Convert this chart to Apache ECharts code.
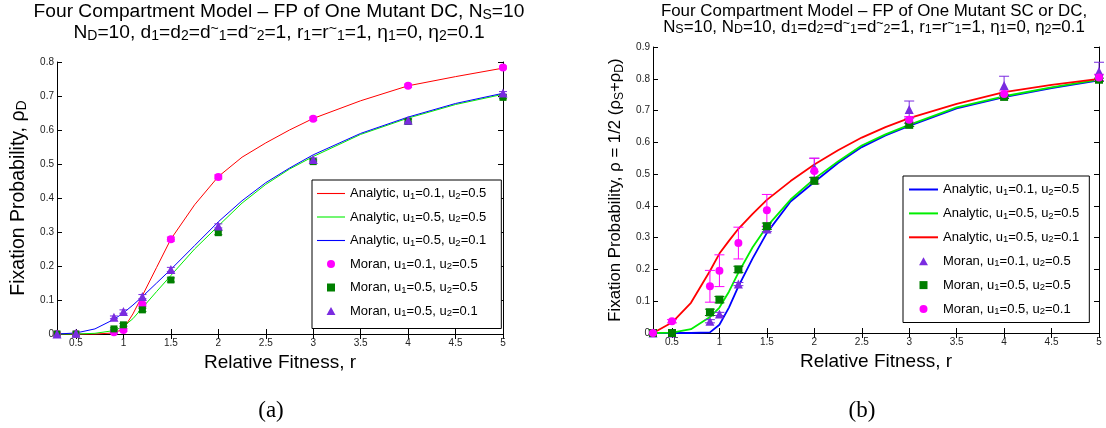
<!DOCTYPE html>
<html><head><meta charset="utf-8">
<script src="https://cdn.jsdelivr.net/npm/echarts@6/dist/echarts.min.js"></script>
<style>html,body{margin:0;padding:0;background:#fff}#c{width:1106px;height:428px}</style>
</head><body><div id="c"></div><script>
const FONT = '"Liberation Sans", Arial, Helvetica, sans-serif';

// ---------- data ----------
const rAnalytic = [0.3, 0.5, 0.7, 0.9, 1, 1.1, 1.2, 1.35, 1.5, 1.75, 2, 2.25, 2.5, 2.75, 3, 3.5, 4, 4.5, 5];
const rMoran = [0.3, 0.5, 0.9, 1, 1.2, 1.5, 2, 3, 4, 5];
const xTickValues = [0.5, 1, 1.5, 2, 2.5, 3, 3.5, 4, 4.5, 5];

// Panel (a)
const aAnalyticU01U05 = [0, 0, 0, 0.003, 0.015, 0.059, 0.113, 0.196, 0.279, 0.38, 0.463, 0.52, 0.562, 0.6, 0.634, 0.686, 0.73, 0.757, 0.782];
const aAnalyticU05U05 = [0, 0, 0.002, 0.01, 0.022, 0.045, 0.077, 0.125, 0.172, 0.25, 0.318, 0.385, 0.44, 0.485, 0.522, 0.587, 0.635, 0.675, 0.705];
const aAnalyticU05U01 = [0, 0.003, 0.015, 0.043, 0.062, 0.085, 0.11, 0.15, 0.19, 0.26, 0.33, 0.392, 0.445, 0.488, 0.527, 0.59, 0.638, 0.678, 0.708];
const aMoranU01U05 = [0, 0, 0.005, 0.012, 0.087, 0.279, 0.462, 0.633, 0.73, 0.784];
const aMoranU05U05 = [0, 0, 0.015, 0.027, 0.071, 0.159, 0.298, 0.507, 0.625, 0.696];
const aMoranU05U01 = [0, 0.002, 0.049, 0.066, 0.11, 0.19, 0.318, 0.513, 0.629, 0.709];
const aErrU01U05 = [0, 0, 0.003, 0.004, 0.006, 0.006, 0.006, 0.005, 0.005, 0.004];
const aErrU05U05 = [0, 0, 0.003, 0.004, 0.005, 0.006, 0.006, 0.005, 0.005, 0.004];
const aErrU05U01 = [0, 0, 0.004, 0.005, 0.006, 0.006, 0.006, 0.005, 0.005, 0.004];

// Panel (b)
const bAnalyticU01U05 = [0, 0, 0, 0.002, 0.026, 0.08, 0.147, 0.235, 0.315, 0.414, 0.475, 0.535, 0.585, 0.622, 0.652, 0.707, 0.742, 0.771, 0.795];
const bAnalyticU05U05 = [0, 0.001, 0.012, 0.05, 0.08, 0.13, 0.19, 0.27, 0.335, 0.42, 0.485, 0.54, 0.59, 0.625, 0.655, 0.71, 0.745, 0.773, 0.797];
const bAnalyticU05U01 = [0, 0.033, 0.095, 0.195, 0.25, 0.29, 0.328, 0.375, 0.419, 0.478, 0.53, 0.575, 0.615, 0.648, 0.676, 0.721, 0.758, 0.781, 0.8];
const bMoranU01U05 = [0, 0, 0.037, 0.06, 0.154, 0.327, 0.52, 0.703, 0.779, 0.823];
const bMoranU05U05 = [0, 0, 0.065, 0.105, 0.2, 0.336, 0.479, 0.655, 0.743, 0.797];
const bMoranU05U01 = [0, 0.037, 0.147, 0.196, 0.283, 0.386, 0.51, 0.671, 0.752, 0.804];
const bErrU01U05 = [0, 0, 0.005, 0.005, 0.005, 0.008, 0.03, 0.027, 0.029, 0.029];
const bErrU05U05 = [0, 0, 0.01, 0.01, 0.01, 0.01, 0.01, 0.005, 0.005, 0.005];
const bErrU05U01 = [0, 0.005, 0.05, 0.05, 0.05, 0.05, 0.04, 0.01, 0.01, 0.01];

// text
const titleA = 'Four Compartment Model \u2013 FP of One Mutant DC, N_S=10\nN_D=10, d_1=d_2=d^~_1=d^~_2=1, r_1=r^~_1=1, \u03b7_1=0, \u03b7_2=0.1';
const titleB = 'Four Compartment Model \u2013 FP of One Mutant SC or DC,\nN_S=10, N_D=10, d_1=d_2=d^~_1=d^~_2=1, r_1=r^~_1=1, \u03b7_1=0, \u03b7_2=0.1';
const xName = 'Relative Fitness, r';
const yNameA = 'Fixation Probability, \u03c1_D';
const yNameB = 'Fixation Probability, \u03c1 = 1/2 (\u03c1_S+\u03c1_D)';
const legendA = ['Analytic, u_1=0.1, u_2=0.5', 'Analytic, u_1=0.5, u_2=0.5', 'Analytic, u_1=0.5, u_2=0.1',
                 'Moran, u_1=0.1, u_2=0.5', 'Moran, u_1=0.5, u_2=0.5', 'Moran, u_1=0.5, u_2=0.1'];
const legendB = ['Analytic, u_1=0.1, u_2=0.5', 'Analytic, u_1=0.5, u_2=0.5', 'Analytic, u_1=0.5, u_2=0.1',
                 'Moran, u_1=0.1, u_2=0.5', 'Moran, u_1=0.5, u_2=0.5', 'Moran, u_1=0.5, u_2=0.1'];

// ---------- helpers ----------
function tex(s, base) {
  let out = '', buf = '', i = 0;
  const flush = () => { if (buf) { out += '{' + base + '|' + buf + '}'; buf = ''; } };
  while (i < s.length) {
    const c = s[i];
    if (c === '_' || c === '^') {
      flush();
      let arg;
      if (s[i + 1] === '{') { const j = s.indexOf('}', i + 2); arg = s.slice(i + 2, j); i = j + 1; }
      else { arg = s[i + 1]; i += 2; }
      out += '{' + base + (c === '_' ? 'Sub' : 'Sup') + '|' + arg + '}';
    } else if (c === '\n') { flush(); out += '\n'; i++; }
    else { buf += c; i++; }
  }
  flush();
  return out;
}
function richSet(base, size, subSize, lh, shift) {
  const r = {};
  const common = { fontFamily: FONT, color: '#000', fontWeight: 'normal' };
  r[base] = Object.assign({ fontSize: size, lineHeight: lh }, common);
  r[base + 'Sub'] = Object.assign({ fontSize: subSize, lineHeight: 4, padding: [shift * 2, 0, 0, 0] }, common);
  r[base + 'Sup'] = Object.assign({ fontSize: subSize, lineHeight: 4, padding: [0, 0, shift * 2, 0] }, common);
  return r;
}
const pairs = (xs, ys) => xs.map((x, i) => [x, ys[i]]);

const RED = '#ff0000', LIME = '#00ee00', BLUE = '#0000ff';
const MAG = '#ff00ff', DGREEN = '#007f00', PURPLE = '#7a2be0';

function lineSeries(name, g, vals, color, w) {
  return { type: 'line', name, xAxisIndex: g * 2, yAxisIndex: g * 2, data: pairs(rAnalytic, vals),
    symbol: 'none', showSymbol: false, z: 2, clip: false,
    itemStyle: { color }, lineStyle: { color, width: w } };
}
function scatterSeries(name, g, vals, color, symbol, size) {
  return { type: 'scatter', name, xAxisIndex: g * 2, yAxisIndex: g * 2, data: pairs(rMoran, vals),
    symbol, symbolSize: size, z: 5, clip: false, itemStyle: { color, opacity: 1 } };
}
function errSeries(name, g, vals, errs, color, cap) {
  return { type: 'custom', name, xAxisIndex: g * 2, yAxisIndex: g * 2, z: 4, silent: true, clip: false,
    data: rMoran.map((r, i) => [r, vals[i], errs[i]]),
    renderItem: (params, api) => {
      const x = api.value(0), y = api.value(1), e = api.value(2);
      if (!e) return null;
      const t = api.coord([x, y + e]), b = api.coord([x, y - e]);
      const st = { stroke: color, lineWidth: 1 };
      return { type: 'group', children: [
        { type: 'line', shape: { x1: t[0], y1: t[1], x2: b[0], y2: b[1] }, style: st },
        { type: 'line', shape: { x1: t[0] - cap, y1: t[1], x2: t[0] + cap, y2: t[1] }, style: st },
        { type: 'line', shape: { x1: b[0] - cap, y1: b[1], x2: b[0] + cap, y2: b[1] }, style: st }
      ] };
    } };
}

const axisLineStyle = { show: true, lineStyle: { color: '#000', width: 1 } };
function xAxes(gi, showLabel, pos) {
  return { type: 'value', gridIndex: gi, position: pos, min: 0.3, max: 5,
    axisLine: axisLineStyle, splitLine: { show: false },
    axisTick: { show: true, inside: true, length: 5, customValues: xTickValues, lineStyle: { color: '#000' } },
    axisLabel: { show: showLabel, customValues: xTickValues, fontSize: 10, fontFamily: FONT, color: '#222', margin: 4 },
    name: showLabel ? xName : '', nameLocation: 'middle', nameGap: 15,
    nameTextStyle: { fontSize: 19, fontFamily: FONT, color: '#000' } };
}
function yAxes(gi, max, showLabel, pos, name, nameGap, richBase, size) {
  const o = { type: 'value', gridIndex: gi, position: pos, min: 0, max, interval: 0.1,
    axisLine: axisLineStyle, splitLine: { show: false },
    axisTick: { show: true, inside: true, length: 5, lineStyle: { color: '#000' } },
    axisLabel: { show: showLabel, fontSize: 10, fontFamily: FONT, color: '#222', margin: 3 } };
  if (name) {
    o.name = tex(name, richBase); o.nameLocation = 'middle'; o.nameGap = nameGap; o.nameRotate = 90;
    o.nameTextStyle = { rich: richSet(richBase, size, size * 0.72, size + 4, 4) };
  }
  return o;
}

const prefA = '(a) ', prefB = '(b) ';
const series = [
  lineSeries(prefA + legendA[0], 0, aAnalyticU01U05, RED, 1),
  lineSeries(prefA + legendA[1], 0, aAnalyticU05U05, LIME, 1),
  lineSeries(prefA + legendA[2], 0, aAnalyticU05U01, BLUE, 1),
  errSeries('ea1', 0, aMoranU01U05, aErrU01U05, MAG, 4),
  errSeries('ea2', 0, aMoranU05U05, aErrU05U05, DGREEN, 4),
  errSeries('ea3', 0, aMoranU05U01, aErrU05U01, PURPLE, 4),
  scatterSeries(prefA + legendA[3], 0, aMoranU01U05, MAG, 'circle', 8),
  scatterSeries(prefA + legendA[4], 0, aMoranU05U05, DGREEN, 'rect', 7),
  scatterSeries(prefA + legendA[5], 0, aMoranU05U01, PURPLE, 'triangle', 9),

  lineSeries(prefB + legendB[0], 1, bAnalyticU01U05, BLUE, 1.8),
  lineSeries(prefB + legendB[1], 1, bAnalyticU05U05, LIME, 1.8),
  lineSeries(prefB + legendB[2], 1, bAnalyticU05U01, RED, 1.8),
  errSeries('eb1', 1, bMoranU01U05, bErrU01U05, PURPLE, 5),
  errSeries('eb2', 1, bMoranU05U05, bErrU05U05, DGREEN, 5),
  errSeries('eb3', 1, bMoranU05U01, bErrU05U01, MAG, 5),
  scatterSeries(prefB + legendB[3], 1, bMoranU01U05, PURPLE, 'triangle', 9),
  scatterSeries(prefB + legendB[4], 1, bMoranU05U05, DGREEN, 'rect', 8),
  scatterSeries(prefB + legendB[5], 1, bMoranU05U01, MAG, 'circle', 8)
];

const SQUARE = 'path://M0,0L10,0L10,10L0,10Z';
const TRIANGLE = 'path://M5,0L10,9L0,9Z';
const LINE1 = 'path://M0,0L28,0L28,1.1L0,1.1Z';
const LINE2 = 'path://M0,0L14.5,0L14.5,1L0,1Z';
function legendOpt(pref, names, icons, colors, left, top, itemWidth, itemGap, padding) {
  return { orient: 'vertical', left, top, align: 'left', itemWidth, itemHeight: 8, itemGap,
    padding, borderColor: '#000', borderWidth: 1, backgroundColor: '#fff',
    selectedMode: false, symbolKeepAspect: true,
    itemStyle: { borderWidth: 0 },
    data: names.map((n, i) => ({ name: pref + n, icon: icons[i], itemStyle: { color: colors[i], borderWidth: 0 } })),
    formatter: n => tex(n.slice(pref.length), 'lg'),
    textStyle: { rich: richSet('lg', 13, 9.5, 16, 2.5), fontFamily: FONT, fontSize: 13, color: '#000' } };
}

const option = {
  animation: false,
  backgroundColor: '#fff',
  title: [
    { text: tex(titleA, 'ta'), left: 279, top: 1, textAlign: 'center', padding: 0,
      textStyle: { fontWeight: 'normal', rich: richSet('ta', 19.2, 14, 21, 3.5) } },
    { text: tex(titleB, 'tb'), left: 874, top: 3, textAlign: 'center', padding: 0,
      textStyle: { fontWeight: 'normal', rich: richSet('tb', 16.9, 12.5, 16, 3) } }
  ],
  grid: [
    { left: 57, top: 62, width: 446, height: 272 },
    { left: 653, top: 47, width: 446, height: 286 }
  ],
  xAxis: [xAxes(0, true, 'bottom'), xAxes(0, false, 'top'), xAxes(1, true, 'bottom'), xAxes(1, false, 'top')],
  yAxis: [
    yAxes(0, 0.8, true, 'left', yNameA, 27, 'ya', 19.5), yAxes(0, 0.8, false, 'right'),
    yAxes(1, 0.9, true, 'left', yNameB, 27, 'yb', 16.8), yAxes(1, 0.9, false, 'right')
  ],
  legend: [
    legendOpt(prefA, legendA, [LINE1, LINE1, LINE1, 'circle', SQUARE, TRIANGLE],
      [RED, LIME, BLUE, MAG, DGREEN, PURPLE], 312, 180, 28, 8.5, [6, 15, 10, 5]),
    legendOpt(prefB, legendB, [LINE2, LINE2, LINE2, TRIANGLE, SQUARE, 'circle'],
      [BLUE, LIME, RED, PURPLE, DGREEN, MAG], 903, 176, 29, 8.9, [6, 10, 6, 6])
  ],
  graphic: [
    { type: 'text', x: 271, y: 411, style: { text: '(a)', font: '23px "Liberation Serif", serif', fill: '#000', textAlign: 'center', textVerticalAlign: 'middle' } },
    { type: 'text', x: 862, y: 411, style: { text: '(b)', font: '23px "Liberation Serif", serif', fill: '#000', textAlign: 'center', textVerticalAlign: 'middle' } }
  ],
  series
};
const chart = echarts.init(document.getElementById('c'), null, { renderer: 'canvas' });
chart.setOption(option);
</script></body></html>
